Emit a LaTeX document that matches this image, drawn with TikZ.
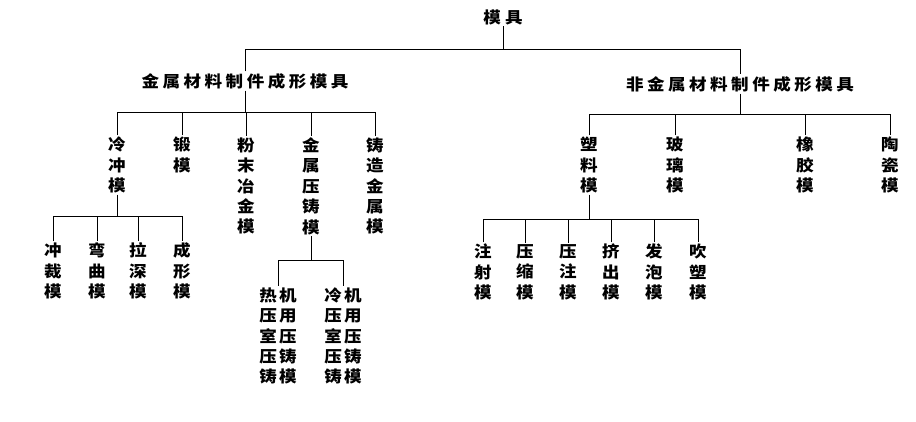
\documentclass[tikz,border=0pt]{standalone}
\usepackage{fontspec}
\newfontfamily\cjk[FakeStretch=1.1]{Noto Sans CJK SC}
\newcommand\gp{\hspace{3.5bp}}
\newcommand\cg{\hspace{2bp}}
\tikzset{
  lbl/.style={font=\cjk\bfseries\fontsize{16}{20.5}\selectfont, inner sep=1.5bp, align=center},
  ln/.style={line width=1bp, black}
}
\begin{document}
\begin{tikzpicture}[x=1bp,y=-1bp]
\useasboundingbox[fill=white] (0,0) rectangle (916,421);
% root and first level
\node[lbl] (root) at (503,17) {模\hspace{4bp}具};
\node[lbl] (L1) at (245,81) {金\gp{}属\gp{}材\gp{}料\gp{}制\gp{}件\gp{}成\gp{}形\gp{}模\gp{}具};
\node[lbl] (R1) at (740,84) {非\gp{}金\gp{}属\gp{}材\gp{}料\gp{}制\gp{}件\gp{}成\gp{}形\gp{}模\gp{}具};
% bus levels
\coordinate (b0) at (503,49);
\coordinate (b1) at (245,112);
\coordinate (b2) at (740,114);
\coordinate (b3) at (117,216);
\coordinate (b4) at (311,260);
\coordinate (b5) at (589,219);
% metal branch
\node[lbl] (m1) at (117,165) {冷\\冲\\模};
\node[lbl] (m2) at (182,155) {锻\\模};
\node[lbl] (m3) at (246,186) {粉\\末\\冶\\金\\模};
\node[lbl] (m4) at (311,186) {金\\属\\压\\铸\\模};
\node[lbl] (m5) at (375,186) {铸\\造\\金\\属\\模};
\node[lbl] (c1) at (53,271) {冲\\裁\\模};
\node[lbl] (c2) at (97,271) {弯\\曲\\模};
\node[lbl] (c3) at (138,271) {拉\\深\\模};
\node[lbl] (c4) at (182,271) {成\\形\\模};
\node[lbl] (d1) at (278,336) {热\cg{}机\\压\cg{}用\\室\cg{}压\\压\cg{}铸\\铸\cg{}模};
\node[lbl] (d2) at (343,336) {冷\cg{}机\\压\cg{}用\\室\cg{}压\\压\cg{}铸\\铸\cg{}模};
% non-metal branch
\node[lbl] (n1) at (589,165) {塑\\料\\模};
\node[lbl] (n2) at (675,165) {玻\\璃\\模};
\node[lbl] (n3) at (805,165) {橡\\胶\\模};
\node[lbl] (n4) at (890,165) {陶\\瓷\\模};
\node[lbl] (p1) at (483,272) {注\\射\\模};
\node[lbl] (p2) at (525,272) {压\\缩\\模};
\node[lbl] (p3) at (568,272) {压\\注\\模};
\node[lbl] (p4) at (611,272) {挤\\出\\模};
\node[lbl] (p5) at (654,272) {发\\泡\\模};
\node[lbl] (p6) at (698,272) {吹\\塑\\模};
% connectors
\draw[ln] (root.south) -- (b0);
\draw[ln] (L1.north) -- (L1.north |- b0) -- (R1.north |- b0) -- (R1.north);
\draw[ln] (L1.south) -- (L1.south |- b1);
\draw[ln] (m1.north) -- (m1.north |- b1) -- (m5.north |- b1) -- (m5.north);
\foreach \n in {m2,m3,m4} \draw[ln] (\n.north) -- (\n.north |- b1);
\draw[ln] (R1.south) -- (R1.south |- b2);
\draw[ln] (n1.north) -- (n1.north |- b2) -- (n4.north |- b2) -- (n4.north);
\foreach \n in {n2,n3} \draw[ln] (\n.north) -- (\n.north |- b2);
\draw[ln] (m1.south) -- (b3);
\draw[ln] (c1.north) -- (c1.north |- b3) -- (c4.north |- b3) -- (c4.north);
\foreach \n in {c2,c3} \draw[ln] (\n.north) -- (\n.north |- b3);
\draw[ln] (m4.south) -- (b4);
\draw[ln] (d1.north) -- (d1.north |- b4) -- (d2.north |- b4) -- (d2.north);
\draw[ln] (n1.south) -- (b5);
\draw[ln] (p1.north) -- (p1.north |- b5) -- (p6.north |- b5) -- (p6.north);
\foreach \n in {p2,p3,p4,p5} \draw[ln] (\n.north) -- (\n.north |- b5);
\end{tikzpicture}
\end{document}
